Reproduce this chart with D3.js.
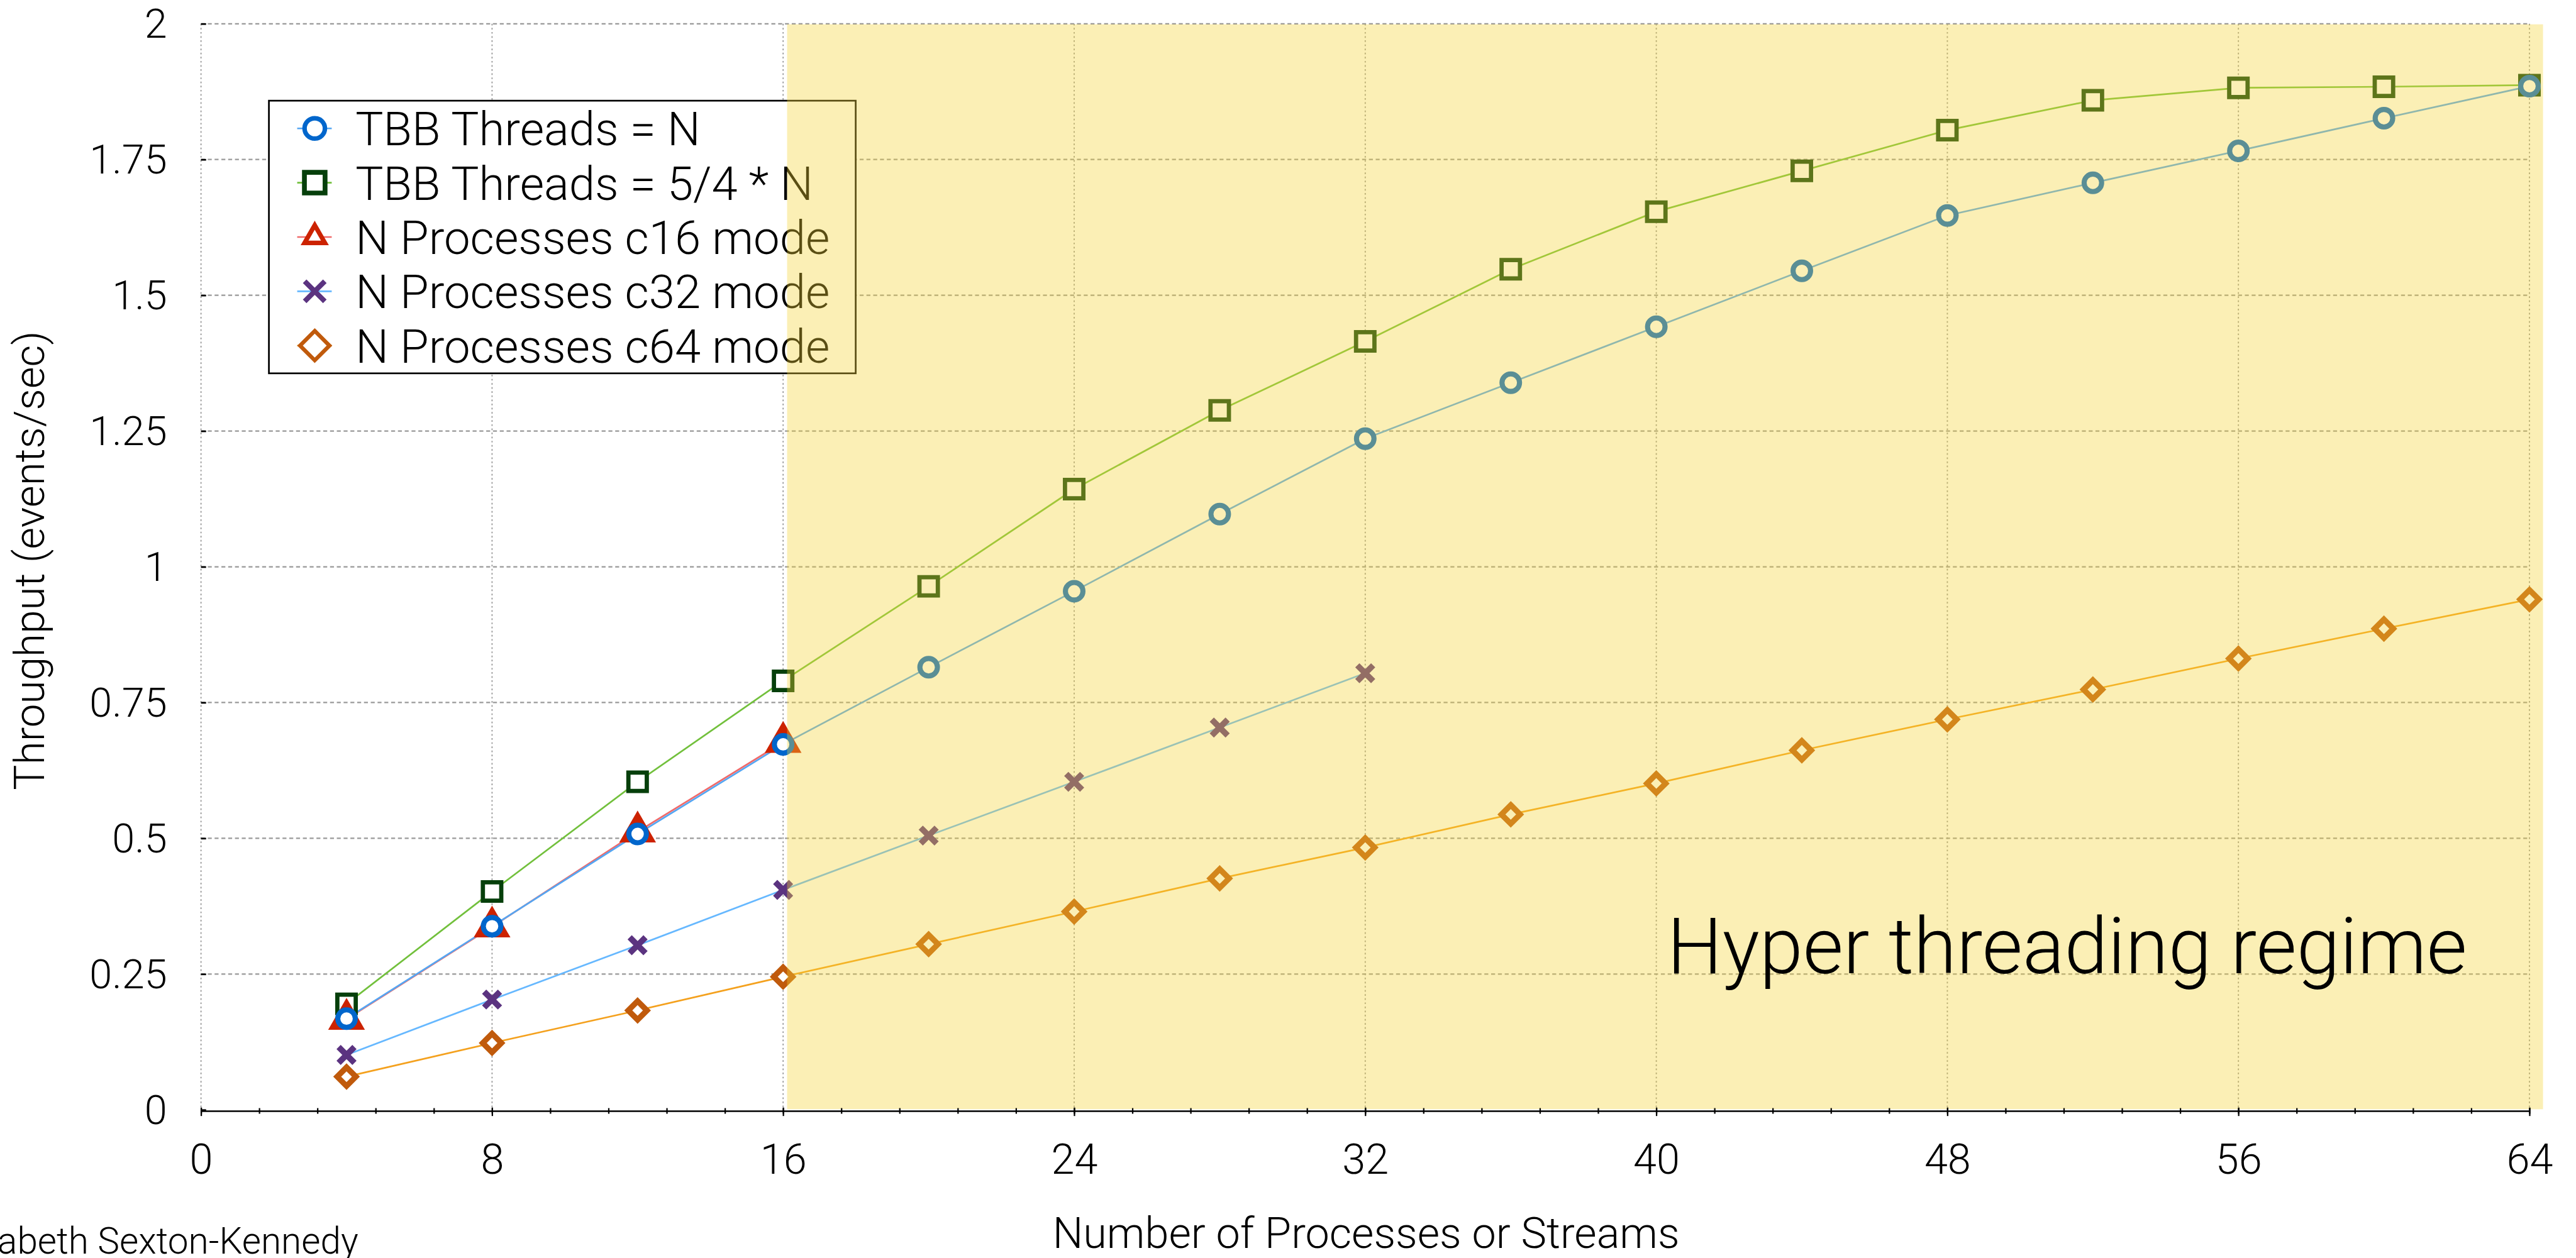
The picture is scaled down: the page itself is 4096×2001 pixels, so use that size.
<!DOCTYPE html>
<html>
<head>
<meta charset="utf-8">
<style>
body { margin: 0; background: #fff; }
svg { display: block; }
text { font-family: Roboto, "Liberation Sans", sans-serif; font-weight: 300; fill: #000; }
</style>
</head>
<body>
<svg width="4096" height="2001" viewBox="0 0 4552 2224"></svg>
<script src="https://cdn.jsdelivr.net/npm/d3@7"></script>
<script>

// data
var threads = [4, 8, 12, 16, 20, 24, 28, 32, 36, 40, 44, 48, 52, 56, 60, 64];
var tbbN    = [0.168, 0.338, 0.508, 0.673, 0.815, 0.955, 1.097, 1.236, 1.339, 1.442, 1.545, 1.647, 1.707, 1.766, 1.826, 1.885];
var tbb54   = [0.195, 0.402, 0.604, 0.790, 0.964, 1.143, 1.288, 1.415, 1.548, 1.654, 1.729, 1.804, 1.859, 1.882, 1.884, 1.887];
var c16     = [0.167, 0.337, 0.512, 0.677];
var c32     = [0.101, 0.203, 0.303, 0.405, 0.505, 0.604, 0.704, 0.804];
var c64     = [0.061, 0.123, 0.183, 0.245, 0.305, 0.365, 0.426, 0.483, 0.544, 0.601, 0.662, 0.719, 0.774, 0.831, 0.886, 0.940];

var xTicks = [0, 8, 16, 24, 32, 40, 48, 56, 64];
var yTicks = [0, 0.25, 0.5, 0.75, 1, 1.25, 1.5, 1.75, 2];
var htStart = 16, htEnd = 64;   // hyper threading band

var series = [
  {name: "N Processes c64 mode",  values: c64,   line: "#f4a11e", mark: "#c05a0c", shape: "diamond"},
  {name: "N Processes c32 mode",  values: c32,   line: "#66b8ff", mark: "#5b3380", shape: "cross"},
  {name: "TBB Threads = 5/4 * N", values: tbb54, line: "#72c03c", mark: "#063f0b", shape: "square"},
  {name: "N Processes c16 mode",  values: c16,   line: "#f06a6a", mark: "#cc2200", shape: "triangle"},
  {name: "TBB Threads = N",       values: tbbN,  line: "#55a6f2", mark: "#0066cc", shape: "circle"}
];
var legendOrder = ["TBB Threads = N", "TBB Threads = 5/4 * N", "N Processes c16 mode",
                   "N Processes c32 mode", "N Processes c64 mode"];

// marker sizes: [radius, stroke width]
var plotMark = {circle: [15.5, 9], square: [16.25, 7.5], triangle: [26, 11.5], cross: [14, 10.5], diamond: [16.5, 10]};
var legMark  = {circle: [18, 8],   square: [18.25, 8.5], triangle: [20.8, 8],  cross: [17.8, 9],  diamond: [26, 7]};

function markerPath(type, r) {
  if (type == "circle") return "M" + r + ",0A" + r + "," + r + " 0 1,1 " + (-r) + ",0A" + r + "," + r + " 0 1,1 " + r + ",0Z";
  if (type == "square") return "M" + (-r) + "," + (-r) + "H" + r + "V" + r + "H" + (-r) + "Z";
  if (type == "diamond") return "M0," + (-r) + "L" + r + ",0L0," + r + "L" + (-r) + ",0Z";
  if (type == "cross") return "M" + (-r) + "," + (-r) + "L" + r + "," + r + "M" + (-r) + "," + r + "L" + r + "," + (-r);
  var h = r * Math.sqrt(3) / 2;
  return "M0," + (-r) + "L" + h + "," + (r / 2) + "L" + (-h) + "," + (r / 2) + "Z";
}

var svg = d3.select("svg");

var x = d3.scaleLinear().domain([0, 64]).range([355, 4470]);
var y = d3.scaleLinear().domain([0, 2]).range([1962, 42]);

// grid
svg.append("g").selectAll("line")
  .data(yTicks.slice(1))
  .enter().append("line")
    .attr("x1", x(0)).attr("x2", x(64))
    .attr("y1", function(d) { return y(d); })
    .attr("y2", function(d) { return y(d); })
    .attr("stroke", "#999")
    .attr("stroke-width", 2.5)
    .attr("stroke-dasharray", "7 5");

svg.append("g").selectAll("line")
  .data(xTicks)
  .enter().append("line")
    .attr("x1", function(d) { return x(d); })
    .attr("x2", function(d) { return x(d); })
    .attr("y1", y(2)).attr("y2", y(0))
    .attr("stroke", "#999")
    .attr("stroke-width", 2)
    .attr("stroke-dasharray", "3 4.3");

// lines
var line = d3.line()
    .x(function(d, i) { return x(threads[i]); })
    .y(function(d) { return y(d); });

svg.append("g").selectAll("path")
  .data(series)
  .enter().append("path")
    .attr("fill", "none")
    .attr("stroke", function(s) { return s.line; })
    .attr("stroke-width", 3)
    .attr("d", function(s) { return line(s.values); });

// markers
series.forEach(function(s) {
  var m = plotMark[s.shape];
  svg.append("g").selectAll("path")
    .data(s.values)
    .enter().append("path")
      .attr("transform", function(d, i) { return "translate(" + x(threads[i]) + "," + y(d) + ")"; })
      .attr("d", markerPath(s.shape, m[0]))
      .attr("fill", s.shape == "cross" ? "none" : "#fff")
      .attr("stroke", s.mark)
      .attr("stroke-width", m[1])
      .attr("stroke-linejoin", "miter");
});

// legend
var legend = svg.append("g");
legend.append("rect")
    .attr("x", 475).attr("y", 178)
    .attr("width", 1037).attr("height", 482)
    .attr("fill", "#fff")
    .attr("stroke", "#000")
    .attr("stroke-width", 3);

var items = legend.selectAll("g.item")
  .data(legendOrder.map(function(n) { return series.find(function(s) { return s.name == n; }); }))
  .enter().append("g")
    .attr("class", "item")
    .attr("transform", function(d, i) { return "translate(556," + (227 + i * 96) + ")"; });

items.append("line")
    .attr("x1", -31).attr("x2", 30)
    .attr("stroke", function(s) { return s.line; })
    .attr("stroke-width", 3);

items.append("path")
    .attr("d", function(s) { return markerPath(s.shape, legMark[s.shape][0]); })
    .attr("fill", function(s) { return s.shape == "cross" ? "none" : "#fff"; })
    .attr("stroke", function(s) { return s.mark; })
    .attr("stroke-width", function(s) { return legMark[s.shape][1]; });

items.append("text")
    .attr("x", 72).attr("y", 30)
    .attr("font-size", 82.5)
    .text(function(s) { return s.name; });

// hyper threading band, drawn over everything in the plot
svg.append("rect")
    .attr("x", x(htStart) + 7)
    .attr("y", y(2) + 1)
    .attr("width", x(htEnd) + 24 - x(htStart) - 7)
    .attr("height", y(0) - y(2) - 2)
    .attr("fill", "rgb(244,211,54)")
    .attr("fill-opacity", 0.37);

// x axis
var xAxis = svg.append("g")
    .attr("transform", "translate(0," + (y(0) + 2) + ")")
    .call(d3.axisBottom(x).tickValues(xTicks).tickSize(9).tickSizeOuter(0)
      .tickFormat(function(d) { return d; }));
xAxis.select(".domain").attr("stroke-width", 3);
xAxis.selectAll(".tick line").attr("y1", -6).attr("stroke-width", 2.5);
xAxis.selectAll(".tick text")
    .attr("y", 111).attr("dy", null)
    .attr("font-size", 74);
xAxis.attr("font-family", null).attr("font-size", null);

var minor = svg.append("g")
    .attr("transform", "translate(0," + (y(0) + 2) + ")")
    .call(d3.axisBottom(x).tickValues(d3.range(0, 64.01, 1.6)).tickSize(5).tickFormat(""));
minor.select(".domain").remove();
minor.selectAll(".tick line").attr("y1", -5).attr("stroke-width", 2.5);

// y axis
var yAxis = svg.append("g")
    .attr("transform", "translate(" + x(0) + ",0)")
    .call(d3.axisLeft(y).tickValues(yTicks).tickSizeInner(-9).tickSizeOuter(0).tickPadding(60)
      .tickFormat(function(d) { return String(d); }));
yAxis.select(".domain").remove();
yAxis.selectAll(".tick line").attr("stroke-width", 3);
yAxis.selectAll(".tick text").attr("font-size", 72).attr("dy", "0.34em");
yAxis.attr("font-family", null).attr("font-size", null);

// titles
svg.append("text")
    .attr("x", 2414).attr("y", 2206)
    .attr("text-anchor", "middle")
    .attr("font-size", 76)
    .text("Number of Processes or Streams");

svg.append("text")
    .attr("transform", "translate(78,991) rotate(-90)")
    .attr("text-anchor", "middle")
    .attr("font-size", 75)
    .text("Throughput (events/sec)");

svg.append("text")
    .attr("x", 633).attr("y", 2216)
    .attr("text-anchor", "end")
    .attr("font-size", 65)
    .text("Elizabeth Sexton-Kennedy");

svg.append("text")
    .attr("x", 2946).attr("y", 1721)
    .attr("font-size", 138)
    .text("Hyper threading regime");

</script>
</body>
</html>
